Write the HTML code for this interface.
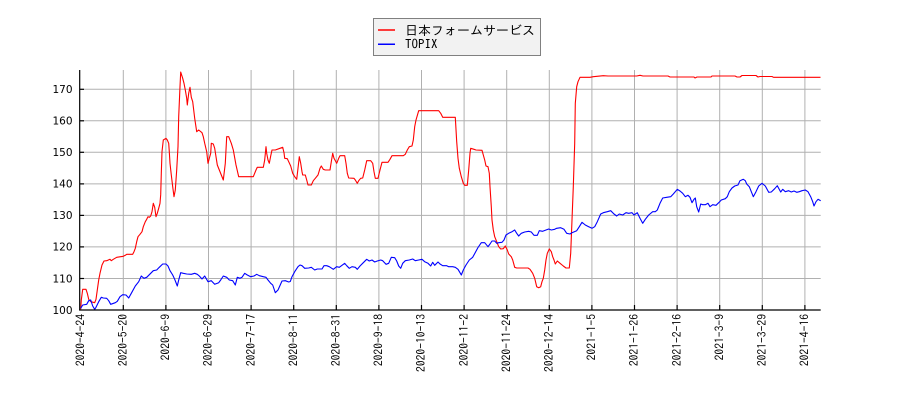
<!DOCTYPE html>
<html><head><meta charset="utf-8"><style>
html,body{margin:0;padding:0;background:#fff;}
svg{display:block;}
.yl{font-family:"DejaVu Sans","Liberation Sans",sans-serif;font-size:10.5px;fill:#000;}
.xl{font-family:"IPAGothic","Liberation Sans",sans-serif;font-size:11.6px;fill:#000;}
.lg{font-family:"IPAGothic","Liberation Sans","Noto Sans CJK JP",sans-serif;font-size:13px;fill:#000;}
</style></head><body>
<svg width="900" height="400" viewBox="0 0 900 400" xmlns="http://www.w3.org/2000/svg">
<rect x="0" y="0" width="900" height="400" fill="#fff"/>
<g stroke="#b0b0b0" stroke-width="1" fill="none">
<line x1="80" y1="278.5" x2="820.7" y2="278.5"/>
<line x1="80" y1="246.9" x2="820.7" y2="246.9"/>
<line x1="80" y1="215.4" x2="820.7" y2="215.4"/>
<line x1="80" y1="183.9" x2="820.7" y2="183.9"/>
<line x1="80" y1="152.3" x2="820.7" y2="152.3"/>
<line x1="80" y1="120.8" x2="820.7" y2="120.8"/>
<line x1="80" y1="89.3" x2="820.7" y2="89.3"/>
<line x1="123.3" y1="70" x2="123.3" y2="310"/>
<line x1="165.9" y1="70" x2="165.9" y2="310"/>
<line x1="208.5" y1="70" x2="208.5" y2="310"/>
<line x1="251.1" y1="70" x2="251.1" y2="310"/>
<line x1="293.7" y1="70" x2="293.7" y2="310"/>
<line x1="336.3" y1="70" x2="336.3" y2="310"/>
<line x1="378.9" y1="70" x2="378.9" y2="310"/>
<line x1="421.5" y1="70" x2="421.5" y2="310"/>
<line x1="464.1" y1="70" x2="464.1" y2="310"/>
<line x1="506.7" y1="70" x2="506.7" y2="310"/>
<line x1="549.3" y1="70" x2="549.3" y2="310"/>
<line x1="591.9" y1="70" x2="591.9" y2="310"/>
<line x1="634.5" y1="70" x2="634.5" y2="310"/>
<line x1="677.1" y1="70" x2="677.1" y2="310"/>
<line x1="719.7" y1="70" x2="719.7" y2="310"/>
<line x1="762.3" y1="70" x2="762.3" y2="310"/>
<line x1="804.9" y1="70" x2="804.9" y2="310"/>
</g>
<polyline fill="none" stroke="#ff0000" stroke-width="1.1" stroke-linejoin="round" points="80.7,309.3 81.3,300 82.7,289.3 86,289.3 87.3,293.3 88.7,299.3 90.7,301.7 94.7,302.7 96,299.3 97.3,290 98.7,280 100,273.3 102,265 104,261 106.7,260.7 110,259.3 111.3,260.7 113.3,259.3 116.7,257.3 120.7,256.7 123.3,256.3 125.3,255.3 126.7,254.3 132.7,254.3 134,251.7 135.3,248.3 136.7,241.7 138,236.7 140,234.3 142,231.7 143.3,226.7 145.3,221.7 146.7,219.3 148,216.7 149.3,217.3 150.7,216 152,211.7 153.3,203.3 154.7,207.3 156,216.7 157.3,213.3 158.7,208.3 160,203.3 160.7,194.7 161.3,173.3 162,151.7 163.3,140 166,138.3 167.3,140 168.7,143.3 169.3,151.7 170,163.3 171.3,175 172.7,186.7 174,196.7 175.3,190 176.7,170 178,146.7 178.7,116.7 180,86.7 180.7,72 182.7,78.3 184,83.3 185.3,90 186.7,98.3 187.3,105 188.7,93.3 190,87.3 191.3,97.3 192.7,101.7 194.7,118.3 196.7,131.7 198.7,130 202,132.7 203.3,136.7 204.7,143.3 206.7,151.7 208,163.3 209.3,158.3 210.7,153.3 211.3,143.3 213.3,144 214.7,148.3 216,156.7 217.3,165 221.3,175 223.3,180 225.3,163.3 226.7,136.7 228.7,136.7 231.3,143.3 233.3,150 236,165 238.7,176.7 253.3,176.7 256,170 257.3,167.3 263.3,167.3 264.7,160 266,146.7 266.7,153.3 268,160 269.3,163.3 270.7,156 272,150 275.3,150 280,148.3 282.7,147.3 284,152.7 284.7,158.3 287.3,158.7 290.7,166 292.7,173.3 294.7,176.7 296.7,179.3 298,168.3 299.3,156.7 300.7,163.3 302,171.7 302.7,175 305.3,175 306.7,180 308,185 311.3,185 313.3,180.7 315.3,178.3 318,175 320,168.3 321.3,166 323.3,169.3 325.3,170 330,170 331.3,161.7 332.7,153.3 334,158.3 336.7,163.3 338.7,158.3 340,155.7 344.7,155.7 346,163.3 347.3,173.3 348.7,178 354,178.3 355.3,180 357.3,183.3 358.7,180.7 360.7,178.3 362.7,178 364.7,170 366.7,160.7 370.7,160.7 372.7,163.3 374,171.7 375.3,178.3 378,178.3 380,170 382,162.3 388,162.3 390,159.3 392,155.7 403.3,155.7 405.3,154.3 407.3,150 409.3,146.7 412,146 413.3,140 414.7,126.7 416,120 418.7,110.7 438.7,110.7 440.7,113.3 442.7,117.3 455.3,117.3 456.7,141.7 458,158.3 459.3,168.3 461.3,176.7 463.3,183.3 464.7,185.3 467.3,185.3 468.7,170 470,153.3 470.7,148.3 474,149.3 476,150 482,150.3 483.3,155 484.7,160 486,166 488,166.7 489.3,173.3 490,186.7 491.3,206.7 492,220 493.3,230 494.7,236.7 496.7,241.7 498.7,246.7 500.7,249 503.3,248.7 505.3,246 507.3,250 508.7,254 511.3,256.7 512.7,260 514.7,267.3 516.7,268 528,268 530,269.3 532.7,273.3 534.7,278.3 536.7,286.7 538.7,287.7 540.7,286.7 542,281.7 543.3,278.3 544.7,270 546,260 547.3,253.3 549.3,249 551.3,251.7 552.7,256.7 554,260 555.3,264 557.3,261 559.3,262.7 563.3,266 566,268 569.3,268 570.7,253.3 572,220 573.3,186.7 574.7,143.3 575.3,103.3 576.7,86.7 578,81.7 580,77.3 590,77.3 593.3,76.7 603.3,75.7 608,76 636.7,76 640,75.3 643,76 668,76 670,77 694,77 695,78 697,77 711,77 712,76 735,76 737,77 740,77 742,75.5 756,75.5 758,77 760,76.5 772,76.5 773.5,77.3 820.5,77.3"/>
<polyline fill="none" stroke="#0000ff" stroke-width="1.1" stroke-linejoin="round" points="80.7,308.3 82.7,305 86.7,304.3 88.7,300.7 90.7,300 92.7,306 94.7,309.3 96,307.3 98.7,301.7 101.3,297.3 103.3,298 106.7,298.3 108.7,300.7 110.7,304.3 115.3,302.7 117.3,301.3 120,296.7 122.7,294.7 126,295 128.7,298 131.3,293.3 135.3,286 138.7,281.7 141.3,276 144,278.3 146.7,277.3 150.7,273.3 153.3,270.7 156.7,270 159.3,267.3 162.7,264 166,264 168,266 170,270.7 172.7,275 174.7,279.3 177.3,286 178.7,280 180.7,272.7 183.3,273.3 186.7,274 191.3,274.3 194.7,273.3 197.3,274.3 199.3,276 202,279 204.7,276 208,281.7 211.3,280.7 214.7,284.3 218.7,282.7 220.7,280 223.3,276 226.7,277.3 229.3,280 232.7,280.7 235.3,285 237.3,277.3 240,278.3 242,277.3 244.7,273.3 247.3,275 250.7,276.7 254,276 256.7,274.3 259.3,275.7 263.3,276.7 266,277.3 268,280 270.7,283.3 272.7,285 275.3,292.7 278,290 282,281 285.3,280.7 288.7,282 290.3,281.5 292,276.7 294.7,271.7 298,266.7 300,265 302,265.7 304.7,268.3 308.7,268 311.3,267.3 314.7,270 317.3,269 322,269 324,265.7 326.7,265.7 329.3,266.7 333.3,269.3 336.7,266.7 339.3,267.3 342,265.3 344.7,263.3 346.7,265.7 349.3,268.3 352,266.7 355.3,267.3 357.3,269.3 360,266 363.3,262.7 366.7,259.3 369.3,261 372,260 374.7,262 377.3,261 380.7,260 382.7,260.7 386,264.3 388.7,263.3 391.3,257.3 394.7,257.7 396.7,261 398.7,266 400.7,268.3 402.7,263.3 405.3,260.7 409.3,260 412.7,259 415.3,260.7 418.7,260 422,259.3 424.7,261.7 428,263.3 430.7,266 432.7,262.3 434.7,265.3 438,262 440,264 442.7,265.7 446.7,265.7 448.7,266.7 452.7,266.7 455.3,267.3 458,269.3 460,272.7 461.3,275 463.3,270 466,265 469.3,260 472.7,257.3 475.3,252.5 478,247.5 481.3,242.7 484.7,242.7 488,246.7 490,244 492,241 494.7,241 496.7,243.3 498.7,242.7 502,242.3 504,240 506,235 508.7,233.3 512,231.7 514.7,230 516.7,233.3 518.7,236 521.3,233.3 524.7,232 528.7,231.3 531.3,232 534,235.3 537.3,235.3 539.3,230.7 542.7,231.3 546,230 548.7,229 551.3,230 554.7,229.3 556.7,228.3 560.7,227.7 564,229.3 566.7,233.3 570,234 572,232.7 576.7,230.7 579.3,226.7 582,222.3 585.3,225 588.7,226.7 592,228.3 594.7,226.7 597.3,221.7 600.7,214 603.3,212.7 607.3,211.7 610.7,210.7 614,214 616.7,216 619.3,214 622.7,215 626,212.7 628.7,213.3 632,212.7 634,215 637.3,212.7 640,218.3 642.7,223.3 645.3,219.3 648.7,215 652.7,211.7 655.3,211.7 657.3,210 660,203.3 662.7,198 666.7,197.3 670.7,196.7 673.3,194 677.3,189.3 680,191 682.7,193.3 685.3,196.7 688,195.3 690,197.3 692,202.7 694,199.3 695.3,198 696.7,206.7 698.7,212 700.7,204 702.7,204.7 705.3,204.7 708,203.3 710,206.7 712.7,204.7 716,205.3 718.7,202.7 721.3,200 725.3,198.7 727.3,196.7 729.3,191.7 732,188 734.7,186 738,185 740,180.7 743.3,179.3 745.3,180.7 746.7,184 749.3,186.7 751.3,191.7 753.3,196.7 756,191.7 758.7,186 762,183.3 765.3,186 768.7,192.3 771.3,192 774.7,188.7 777.3,185.7 780.7,192 782.7,189.3 785.3,191.7 788.7,190.7 791.3,192 794,191 796.7,192.3 799.3,191.7 802,190.7 805.3,190 808,191.7 810.7,196.7 812.7,201.7 814,206 816,201.7 818,199.3 820.7,200.7"/>
<g stroke="#000" stroke-width="1.2" fill="none">
<line x1="79.7" y1="70" x2="79.7" y2="310.5"/>
<line x1="79.2" y1="310" x2="820.7" y2="310"/>
<line x1="80" y1="278.5" x2="84" y2="278.5"/>
<line x1="80" y1="246.9" x2="84" y2="246.9"/>
<line x1="80" y1="215.4" x2="84" y2="215.4"/>
<line x1="80" y1="183.9" x2="84" y2="183.9"/>
<line x1="80" y1="152.3" x2="84" y2="152.3"/>
<line x1="80" y1="120.8" x2="84" y2="120.8"/>
<line x1="80" y1="89.3" x2="84" y2="89.3"/>
<line x1="123.3" y1="305" x2="123.3" y2="310"/>
<line x1="165.9" y1="305" x2="165.9" y2="310"/>
<line x1="208.5" y1="305" x2="208.5" y2="310"/>
<line x1="251.1" y1="305" x2="251.1" y2="310"/>
<line x1="293.7" y1="305" x2="293.7" y2="310"/>
<line x1="336.3" y1="305" x2="336.3" y2="310"/>
<line x1="378.9" y1="305" x2="378.9" y2="310"/>
<line x1="421.5" y1="305" x2="421.5" y2="310"/>
<line x1="464.1" y1="305" x2="464.1" y2="310"/>
<line x1="506.7" y1="305" x2="506.7" y2="310"/>
<line x1="549.3" y1="305" x2="549.3" y2="310"/>
<line x1="591.9" y1="305" x2="591.9" y2="310"/>
<line x1="634.5" y1="305" x2="634.5" y2="310"/>
<line x1="677.1" y1="305" x2="677.1" y2="310"/>
<line x1="719.7" y1="305" x2="719.7" y2="310"/>
<line x1="762.3" y1="305" x2="762.3" y2="310"/>
<line x1="804.9" y1="305" x2="804.9" y2="310"/>
</g>
<g class="yl" text-anchor="end">
<text x="72.5" y="313.8">100</text>
<text x="72.5" y="282.3">110</text>
<text x="72.5" y="250.7">120</text>
<text x="72.5" y="219.2">130</text>
<text x="72.5" y="187.7">140</text>
<text x="72.5" y="156.1">150</text>
<text x="72.5" y="124.6">160</text>
<text x="72.5" y="93.1">170</text>
</g>
<g class="xl" text-anchor="end">
<text transform="translate(84.4,314) rotate(-90)">2020-4-24</text>
<text transform="translate(127.0,314) rotate(-90)">2020-5-20</text>
<text transform="translate(169.6,314) rotate(-90)">2020-6-9</text>
<text transform="translate(212.2,314) rotate(-90)">2020-6-29</text>
<text transform="translate(254.8,314) rotate(-90)">2020-7-17</text>
<text transform="translate(297.4,314) rotate(-90)">2020-8-11</text>
<text transform="translate(340.0,314) rotate(-90)">2020-8-31</text>
<text transform="translate(382.6,314) rotate(-90)">2020-9-18</text>
<text transform="translate(425.2,314) rotate(-90)">2020-10-13</text>
<text transform="translate(467.8,314) rotate(-90)">2020-11-2</text>
<text transform="translate(510.4,314) rotate(-90)">2020-11-24</text>
<text transform="translate(553.0,314) rotate(-90)">2020-12-14</text>
<text transform="translate(595.6,314) rotate(-90)">2021-1-5</text>
<text transform="translate(638.2,314) rotate(-90)">2021-1-26</text>
<text transform="translate(680.8,314) rotate(-90)">2021-2-16</text>
<text transform="translate(723.4,314) rotate(-90)">2021-3-9</text>
<text transform="translate(766.0,314) rotate(-90)">2021-3-29</text>
<text transform="translate(808.6,314) rotate(-90)">2021-4-16</text>
</g>
<rect x="373.5" y="18.5" width="167" height="37" fill="#f2f2f2" stroke="#808080" stroke-width="1"/>
<line x1="378" y1="30" x2="395" y2="30" stroke="#ff0000" stroke-width="1.5"/>
<line x1="378" y1="44.3" x2="395" y2="44.3" stroke="#0000ff" stroke-width="1.5"/>
<text class="lg" x="405" y="35">日本フォームサービス</text>
<text class="lg" x="405" y="48.5">TOPIX</text>
</svg>
</body></html>
